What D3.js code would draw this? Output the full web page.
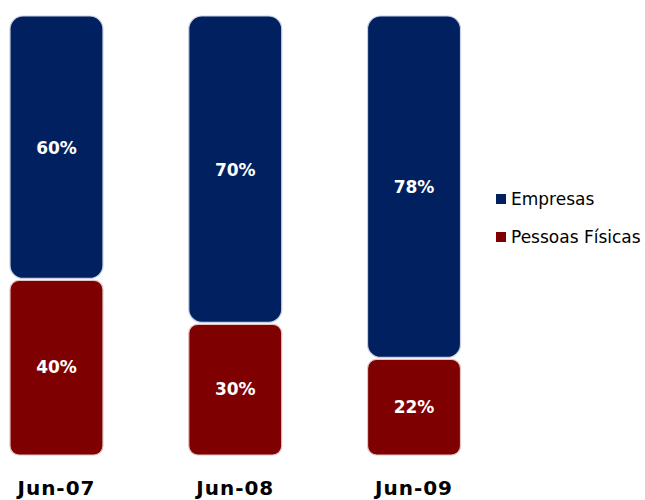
<!DOCTYPE html>
<html>
<head>
<meta charset="utf-8">
<script src="https://cdn.jsdelivr.net/npm/d3@7"></script>
<style>
  html, body { margin: 0; padding: 0; background: #ffffff; }
  svg { display: block; }
</style>
</head>
<body>
<svg id="chart" width="645" height="500"></svg>
<script>
// Share of portfolio by client type, per period (percent)
const categories = ["Jun-07", "Jun-08", "Jun-09"];
const empresas = [60, 70, 78];
const pessoasFisicas = [40, 30, 22];
const seriesNames = ["Empresas", "Pessoas Físicas"];
const seriesColors = ["#002060", "#7f0000"];

const svg = d3.select("#chart");

const x = d3.scaleBand()
  .domain(categories)
  .range([10, 460.5])
  .paddingInner(0.48)
  .paddingOuter(0);

const y = d3.scaleLinear().domain([0, 100]).range([455, 16]);

// Build stacked segments: bottom is Pessoas Físicas, top is Empresas
const rows = categories.map((c, i) => ({ cat: c, "Pessoas Físicas": pessoasFisicas[i], "Empresas": empresas[i] }));
const stack = d3.stack().keys(["Pessoas Físicas", "Empresas"]);
const layers = stack(rows);

const gap = 1;
const g = svg.append("g");

layers.forEach(layer => {
  const isTop = layer.key === "Empresas";
  const color = seriesColors[seriesNames.indexOf(layer.key)];
  const rx = isTop ? 13 : 9;
  const segs = g.selectAll(null).data(layer).enter().append("g");
  segs.append("rect")
    .attr("x", d => x(d.data.cat))
    .attr("width", x.bandwidth())
    .attr("y", d => y(d[1]) + (isTop ? 0 : gap))
    .attr("height", d => y(d[0]) - y(d[1]) - gap)
    .attr("rx", rx).attr("ry", rx)
    .attr("fill", color)
    .attr("stroke", isTop ? "#c9cfe2" : "#e2c4c4")
    .attr("stroke-width", 1.2);
  segs.append("text")
    .attr("x", d => x(d.data.cat) + x.bandwidth() / 2)
    .attr("y", d => (y(d[0]) + y(d[1])) / 2)
    .attr("text-anchor", "middle")
    .attr("dominant-baseline", "central")
    .attr("fill", "#ffffff")
    .attr("font-family", "DejaVu Sans, sans-serif")
    .attr("font-weight", "bold")
    .attr("font-size", 17)
    .text(d => (d[1] - d[0]) + "%");
});

// Category labels under the bars
const xAxis = d3.axisBottom(x).tickSize(0).tickPadding(0);
const axisG = svg.append("g").attr("transform", "translate(0,480)").call(xAxis);
axisG.select(".domain").remove();
axisG.selectAll("text")
  .attr("y", 15)
  .attr("dy", 0)
  .attr("fill", "#000000")
  .attr("font-family", "DejaVu Sans, sans-serif")
  .attr("font-weight", "bold")
  .attr("font-size", 20)
  .attr("letter-spacing", 1);

// Legend
const legend = svg.append("g").attr("transform", "translate(496,194)");
const items = legend.selectAll(null).data(["Empresas", "Pessoas Físicas"]).enter().append("g")
  .attr("transform", (d, i) => `translate(0,${i * 38})`);
items.append("rect")
  .attr("width", 10).attr("height", 10)
  .attr("fill", d => seriesColors[seriesNames.indexOf(d)]);
items.append("text")
  .attr("x", 15).attr("y", 5)
  .attr("dominant-baseline", "central")
  .attr("font-family", "DejaVu Sans, sans-serif")
  .attr("font-size", 17)
  .attr("fill", "#000000")
  .text(d => d);
</script>
</body>
</html>
